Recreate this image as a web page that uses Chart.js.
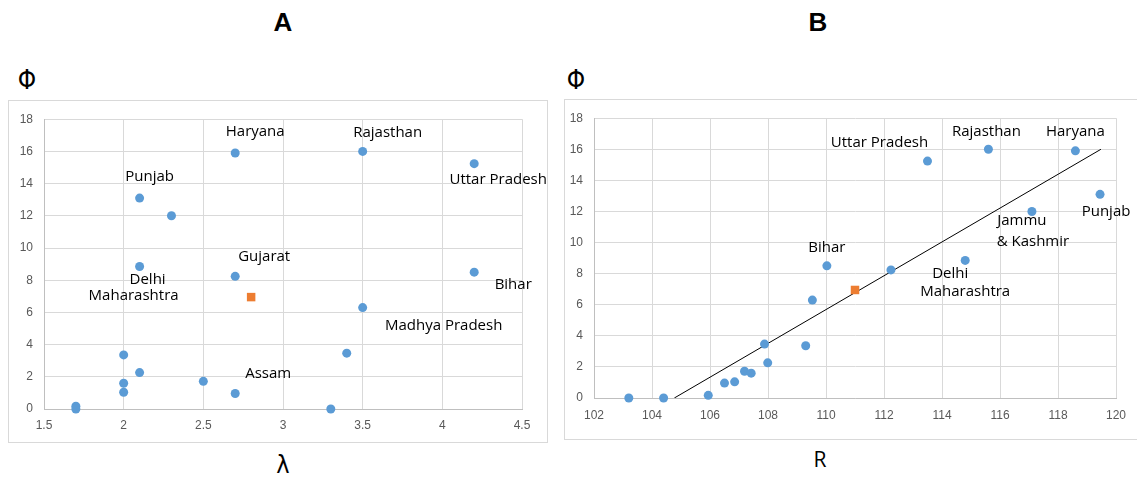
<!DOCTYPE html>
<html>
<head>
<meta charset="utf-8">
<script src="https://cdn.jsdelivr.net/npm/chart.js@4.4.0/dist/chart.umd.min.js"></script>
<style>
  body { margin: 0; background: #fff; width: 1137px; height: 477px; position: relative; overflow: hidden; font-family: "Liberation Sans", Arial, sans-serif; }
  .box { position: absolute; border: 1px solid #d9d9d9; box-sizing: border-box; }
  .txt { position: absolute; transform: translate(-50%, -50%); color: #000; white-space: nowrap; }
  .ttl { font-weight: bold; font-size: 26px; }
</style>
</head>
<body>
<div class="txt ttl" style="left:283px; top:22px;">A</div>
<div class="txt ttl" style="left:818px; top:22px;">B</div>
<div class="txt" style="left:27px; top:80px; font-size:26px; font-family:'DejaVu Sans Condensed','DejaVu Sans';">Φ</div>
<div class="txt" style="left:576px; top:80px; font-size:26px; font-family:'DejaVu Sans Condensed','DejaVu Sans';">Φ</div>
<div class="txt" style="left:283px; top:464px; font-size:25px; font-family:'DejaVu Sans Condensed','DejaVu Sans';">λ</div>
<div class="txt" style="left:820px; top:459px; font-size:21px; font-family:'Open Sans';">R</div>

<div class="box" style="left:8px; top:100px; width:540px; height:343px;">
  <canvas id="chartA" width="538" height="341"></canvas>
</div>
<div class="box" style="left:564px; top:99px; width:590px; height:341px; border-right:none;">
  <canvas id="chartB" width="573" height="339"></canvas>
</div>

<script>
// --- データ ---
const states = ['Haryana', 'Rajasthan', 'Uttar Pradesh', 'Punjab', 'Jammu & Kashmir', 'Delhi', 'Gujarat',
    'Bihar', 'Madhya Pradesh', '', '', '', '', '', '', 'Assam', '', '', ''];
const lambdaVals = [2.7, 3.5, 4.2, 2.1, 2.3, 2.1, 2.7, 4.2, 3.5, 3.4, 2.0, 2.1, 2.5, 2.0, 2.0, 2.7, 1.7, 1.7, 3.3];
const rVals = [118.6, 115.6, 113.5, 119.45, 117.1, 114.8, 112.24, 110.03, 109.53, 107.88, 109.3, 107.99,
    107.19, 107.42, 106.85, 106.5, 105.94, 103.2, 104.4];
const phiVals = [15.9, 16.0, 15.24, 13.1, 12.0, 8.85, 8.24, 8.5, 6.3, 3.47, 3.36, 2.26, 1.72, 1.6, 1.04, 0.96, 0.17, 0, 0];

const meanLambda = [2.8];
const meanR = [111.0];
const meanPhi = [6.95];

const trendR = [104.77, 119.48];
const trendPhi = [0, 16];

const ticksLambda = [1.5, 4.5, 0.5];   // min, max, step
const ticksR = [102, 120, 2];
const ticksPhi = [0, 18, 2];

// --- ラベル位置（点からのずれ, px） ---
const labelsA = [
    { i: 0, text: 'Haryana', dx: 20, dy: -21 },
    { i: 1, text: 'Rajasthan', dx: 25, dy: -19 },
    { i: 2, text: 'Uttar Pradesh', dx: 24, dy: 16 },
    { i: 3, text: 'Punjab', dx: 10, dy: -21 },
    { i: 5, text: 'Delhi', dx: 8, dy: 13 },
    { i: 5, text: 'Maharashtra', dx: -6, dy: 29 },
    { i: 6, text: 'Gujarat', dx: 29, dy: -20 },
    { i: 7, text: 'Bihar', dx: 39, dy: 13 },
    { i: 8, text: 'Madhya Pradesh', dx: 81, dy: 18 },
    { i: 15, text: 'Assam', dx: 33, dy: -20 }
];
const labelsB = [
    { i: 2, text: 'Uttar Pradesh', dx: -48, dy: -18 },
    { i: 1, text: 'Rajasthan', dx: -2, dy: -18 },
    { i: 0, text: 'Haryana', dx: 0, dy: -19 },
    { i: 3, text: 'Punjab', dx: 6, dy: 17 },
    { i: 4, text: 'Jammu', dx: -10, dy: 9 },
    { i: 4, text: '& Kashmir', dx: 1, dy: 30 },
    { i: 7, text: 'Bihar', dx: 0, dy: -18 },
    { i: 5, text: 'Delhi', dx: -15, dy: 13 },
    { i: 5, text: 'Maharashtra', dx: 0, dy: 31 }
];

const blue = '#5b9bd5';
const orange = '#ed7d31';
const gridColor = '#d9d9d9';
const tickColor = '#595959';

// ラベル描画プラグイン
const pointLabels = {
    id: 'pointLabels',
    afterDatasetsDraw(chart, args, opts) {
        const meta = chart.getDatasetMeta(0);
        const ctx = chart.ctx;
        ctx.save();
        ctx.font = '15px "Open Sans", sans-serif';
        ctx.fillStyle = '#000';
        ctx.textAlign = 'center';
        ctx.textBaseline = 'middle';
        opts.items.forEach(l => {
            const p = meta.data[l.i];
            ctx.fillText(l.text, p.x + l.dx, p.y + l.dy);
        });
        ctx.restore();
    }
};

function makeChart(id, xVals, meanX, xTicks, labels, opt) {
    const datasets = [
        {
            data: xVals.map((x, k) => ({ x: x, y: phiVals[k] })),
            backgroundColor: blue, pointRadius: 4.5, pointBorderWidth: 0, showLine: false, order: 2, clip: false
        },
        {
            data: meanX.map((x, k) => ({ x: x, y: meanPhi[k] })),
            backgroundColor: orange, pointStyle: 'rect', pointRadius: 6, pointBorderWidth: 0, showLine: false, order: 1, clip: false
        }
    ];
    if (opt.trend) {
        datasets.push({
            data: trendR.map((x, k) => ({ x: x, y: trendPhi[k] })),
            borderColor: '#000', borderWidth: 1, pointRadius: 0, showLine: true, fill: false, order: 3
        });
    }
    return new Chart(document.getElementById(id), {
        type: 'scatter',
        data: { datasets: datasets },
        options: {
            responsive: false,
            animation: false,
            devicePixelRatio: 1,
            layout: { padding: { top: opt.top, right: opt.right, left: 0, bottom: 0 } },
            plugins: { legend: { display: false }, tooltip: { enabled: false }, pointLabels: { items: labels } },
            scales: {
                x: {
                    type: 'linear', min: xTicks[0], max: xTicks[1],
                    ticks: {
                        stepSize: xTicks[2], color: tickColor, font: { family: 'Liberation Sans', size: 12 },
                        padding: opt.xPad, maxRotation: 0,
                        callback: v => String(Math.round(v * 10) / 10)
                    },
                    grid: { color: gridColor, drawTicks: false },
                    border: { color: '#bfbfbf' },
                    afterFit: s => { s.height = opt.xH; }
                },
                y: {
                    min: ticksPhi[0], max: ticksPhi[1],
                    ticks: { stepSize: ticksPhi[2], color: tickColor, font: { family: 'Liberation Sans', size: 12 }, padding: opt.yPad },
                    grid: { color: gridColor, drawTicks: false },
                    border: { color: '#bfbfbf' },
                    afterFit: s => { s.width = opt.yW; }
                }
            }
        },
        plugins: [pointLabels]
    });
}

makeChart('chartA', lambdaVals, meanLambda, ticksLambda, labelsA,
    { top: 16, right: 25, xH: 33, yW: 35, xPad: 9, yPad: 11, trend: false });
makeChart('chartB', rVals, meanR, ticksR, labelsB,
    { top: 10, right: 22, xH: 41, yW: 29, xPad: 10, yPad: 11, trend: true });
</script>
</body>
</html>
